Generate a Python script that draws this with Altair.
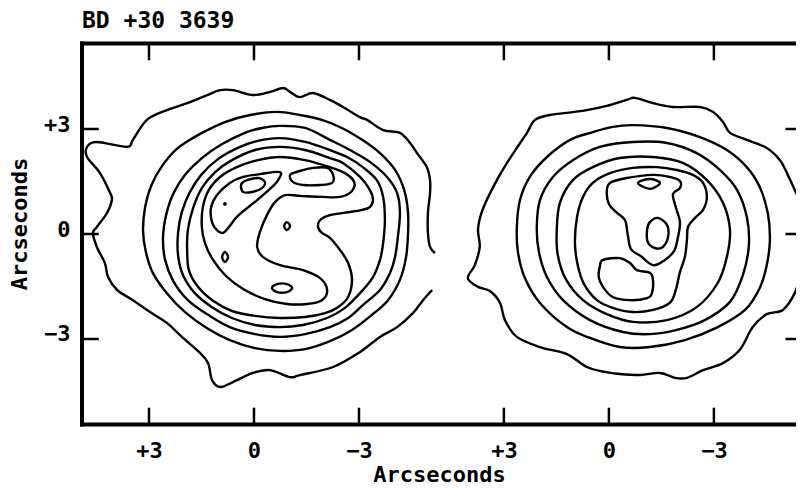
import altair as alt
import pandas as pd

# ---------------- data (arcseconds; east offset is positive to the left) -------------
PANEL_CENTER = {"left": 0.0, "right": 10.14}
X_DOMAIN = [-4.914, 15.486]
Y_DOMAIN = [-5.443, 5.443]

X_TICK_OFFSETS = [3, 0, -3]
X_TICK_LABELS = ["+3", "0", "\u22123"]
Y_TICKS = [3, 0, -3]
Y_TICK_LABELS = ["+3", "0", "\u22123"]

TITLE = "BD +30 3639"
AXIS_TITLE = "Arcseconds"

# left object: outermost contour (open, broken on the right)
LEFT_C1 = [(-5.09, -1.6), (-4.83, -1.89), (-4.54, -2.26), (-4.09, -2.66), (-3.6, -2.94),
           (-3.03, -3.37), (-2.26, -3.8), (-1.31, -4.03), (-1.03, -4.09), (-0.46, -3.89),
           (0.03, -3.97), (0.6, -4.23), (0.97, -4.37), (1.2, -4.17), (1.31, -3.69),
           (1.54, -3.4), (2.06, -2.94), (2.49, -2.54), (2.97, -2.23), (3.46, -1.89),
           (3.91, -1.6), (4.17, -1.23), (4.26, -0.83), (4.49, -0.37), (4.6, 0.03),
           (4.49, 0.2), (4.2, 0.6), (4.06, 0.97), (4.11, 1.17), (4.4, 1.74), (4.77, 2.2),
           (4.77, 2.49), (4.49, 2.63), (3.63, 2.49), (3.46, 2.69), (3.06, 3.26),
           (2.49, 3.54), (1.91, 3.74), (1.34, 3.97), (0.97, 4.11), (0.6, 4.11), (0.03, 3.97),
           (-0.46, 4.06), (-0.83, 4.17), (-1.03, 4.06), (-1.31, 3.91), (-1.69, 4.03),
           (-2.17, 3.83), (-2.54, 3.63), (-3.03, 3.34), (-3.23, 3.26), (-3.69, 2.97),
           (-4.17, 2.89), (-4.46, 2.6), (-4.66, 2.31), (-4.94, 1.91), (-5.03, 1.54),
           (-5.03, 1.17), (-4.97, 0.6), (-4.97, 0.03), (-5.03, -0.37), (-5.17, -0.54)]

LEFT_C2 = [(-0.66, 3.49), (-1.31, 3.4), (-1.94, 3.26), (-2.51, 3.03), (-3.09, 2.69),
           (-3.6, 2.31), (-4.03, 1.83), (-4.29, 1.26), (-4.4, 0.63), (-4.4, -0.03),
           (-4.34, -0.69), (-4.17, -1.31), (-3.83, -1.89), (-3.37, -2.31), (-2.8, -2.74),
           (-2.17, -3.06), (-1.46, -3.29), (-0.74, -3.34), (-0.03, -3.26), (0.69, -3.03),
           (1.34, -2.69), (1.97, -2.23), (2.49, -1.69), (2.89, -1.11), (3.09, -0.51),
           (3.17, 0.11), (3.11, 0.77), (2.94, 1.37), (2.63, 1.94), (2.17, 2.46),
           (1.54, 2.86), (0.83, 3.2), (0.11, 3.4)]

LEFT_C3 = [(-0.74, 3.09), (-1.46, 3.03), (-2.17, 2.69), (-2.74, 2.4), (-3.31, 2.06),
           (-3.8, 1.63), (-4.09, 1.17), (-4.17, 0.6), (-4.11, -0.09), (-4.03, -0.66),
           (-3.89, -1.11), (-3.6, -1.6), (-3.11, -2.03), (-2.69, -2.4), (-2.17, -2.66),
           (-1.46, -2.86), (-0.74, -2.94), (-0.03, -2.86), (0.69, -2.66), (1.31, -2.31),
           (1.89, -1.89), (2.31, -1.34), (2.54, -0.74), (2.6, -0.11), (2.51, 0.54),
           (2.31, 1.14), (1.97, 1.69), (1.49, 2.17), (0.91, 2.57), (0.26, 2.89), (-0.23, 3.03)]

LEFT_C4 = [(-0.74, 2.74), (-1.46, 2.63), (-2.17, 2.4), (-2.66, 2.2), (-3.11, 1.91),
           (-3.51, 1.54), (-3.69, 1.06), (-3.74, 0.4), (-3.69, -0.26), (-3.6, -0.74),
           (-3.4, -1.23), (-3.03, -1.69), (-2.6, -2.11), (-2.09, -2.4), (-1.4, -2.6),
           (-0.74, -2.66), (-0.03, -2.6), (0.63, -2.4), (1.2, -2.09), (1.69, -1.69),
           (2.03, -1.17), (2.17, -0.6), (2.17, 0.03), (2.06, 0.63), (1.83, 1.2),
           (1.49, 1.71), (1.03, 2.14), (0.46, 2.46), (-0.11, 2.66)]

LEFT_C5 = [(-2.17, 2.17), (-2.54, 2.03), (-3.03, 1.63), (-3.31, 1.26), (-3.4, 0.97),
           (-3.31, 0.77), (-3.09, 0.69), (-2.74, 0.63), (-2.17, 0.54), (-1.89, 0.4),
           (-1.83, 0.2), (-1.94, 0.03), (-2.17, -0.11), (-2.46, -0.46), (-2.69, -0.83),
           (-2.8, -1.31), (-2.69, -1.8), (-2.4, -2.09), (-2.03, -2.26), (-1.46, -2.37),
           (-0.74, -2.4), (-0.03, -2.34), (0.63, -2.2), (1.17, -1.91), (1.6, -1.51),
           (1.86, -1.03), (1.91, -0.46), (1.89, 0.11), (1.74, 0.74), (1.49, 1.31),
           (1.11, 1.77), (0.63, 2.11), (-0.03, 2.4), (-0.74, 2.49), (-1.46, 2.4)]

LEFT_C6 = [(-0.74, 2.2), (-1.46, 2.11), (-2.17, 1.91), (-2.6, 1.74), (-2.86, 1.49),
           (-2.8, 1.23), (-2.46, 1.06), (-1.94, 1.06), (-1.31, 1.09), (-0.89, 1.11),
           (-0.6, 0.91), (-0.37, 0.54), (-0.17, 0.06), (-0.09, -0.37), (-0.26, -0.66),
           (-0.74, -0.89), (-1.4, -1.03), (-1.89, -1.26), (-2.09, -1.6), (-1.94, -1.89),
           (-1.51, -2.0), (-0.94, -2.0), (-0.31, -1.86), (0.31, -1.57), (0.8, -1.2),
           (1.17, -0.74), (1.4, -0.26), (1.49, 0.2), (1.46, 0.77), (1.29, 1.26),
           (0.97, 1.63), (0.49, 1.91), (-0.11, 2.11)]

LEFT_BLOB_W = [(1.2, 0.34), (1.23, 0.74), (1.06, 1.11), (0.69, 1.46), (0.31, 1.63),
               (-0.17, 1.71), (-0.74, 1.77), (-0.69, 1.54), (-0.51, 1.34), (-0.09, 0.97),
               (0.2, 0.74), (0.49, 0.49), (0.74, 0.17), (0.89, 0.03), (1.06, 0.11)]
LEFT_BLOB_W_CORE = [(0.34, 1.46), (0.2, 1.54), (-0.11, 1.6), (-0.31, 1.49),
                    (-0.23, 1.31), (0.06, 1.2), (0.31, 1.2), (0.37, 1.34)]
LEFT_BLOB_NE = [(-1.03, 1.69), (-1.31, 1.8), (-1.69, 1.89), (-2.09, 1.89), (-2.26, 1.69),
                (-2.23, 1.46), (-1.89, 1.4), (-1.4, 1.4), (-1.11, 1.49)]
LEFT_OVAL_A = [(0.83, -0.51), (0.74, -0.66), (0.83, -0.8), (0.91, -0.66)]
LEFT_OVAL_B = [(-0.94, 0.34), (-1.03, 0.23), (-0.94, 0.11), (-0.86, 0.23)]
LEFT_OVAL_C = [(-0.51, -1.54), (-0.66, -1.43), (-0.94, -1.43), (-1.09, -1.54),
               (-0.94, -1.66), (-0.66, -1.66)]
LEFT_DOT = [(0.83, 0.86)]

# right object
RIGHT_R1 = [(4.03, -1.26), (3.83, -0.89), (3.69, -0.37), (3.74, 0.11), (3.66, 0.54),
            (3.49, 0.97), (3.2, 1.54), (2.91, 2.03), (2.63, 2.46), (2.34, 2.89),
            (2.11, 3.26), (1.69, 3.4), (1.2, 3.46), (0.63, 3.54), (0.06, 3.66),
            (-0.51, 3.83), (-0.74, 3.89), (-1.26, 3.74), (-1.83, 3.63), (-2.6, 3.63),
            (-2.97, 3.49), (-3.26, 3.2), (-3.46, 2.89), (-3.94, 2.69), (-4.51, 2.46),
            (-4.89, 2.11), (-5.11, 1.69), (-5.31, 1.26), (-5.49, 0.83), (-5.54, 0.4),
            (-5.51, -0.03), (-5.51, -0.6), (-5.46, -1.17), (-5.31, -1.69), (-4.97, -2.17),
            (-4.51, -2.29), (-4.11, -2.66), (-3.74, -3.31), (-3.26, -3.69), (-2.69, -3.89),
            (-2.23, -4.11), (-1.89, -4.11), (-1.46, -3.97), (-0.89, -4.03), (-0.31, -4.0),
            (0.11, -3.94), (0.63, -3.8), (1.2, -3.43), (1.97, -3.23), (2.63, -2.94),
            (2.97, -2.46), (3.11, -1.97), (3.4, -1.63), (3.74, -1.51)]

RIGHT_R2 = [(2.63, 0.2), (2.54, 0.97), (2.26, 1.63), (1.77, 2.2), (1.11, 2.69),
            (0.46, 2.91), (-0.11, 3.06), (-0.69, 3.11), (-1.66, 3.03), (-2.6, 2.77),
            (-3.37, 2.4), (-3.94, 1.91), (-4.31, 1.34), (-4.54, 0.6), (-4.6, -0.17),
            (-4.51, -0.89), (-4.31, -1.54), (-3.89, -2.17), (-3.11, -2.66), (-2.17, -3.03),
            (-1.17, -3.23), (-0.31, -3.23), (0.54, -2.97), (1.2, -2.66), (1.97, -1.97),
            (2.4, -1.26), (2.6, -0.51)]

RIGHT_R3 = [(2.06, 0.2), (1.97, 0.97), (1.6, 1.63), (1.03, 2.11), (0.26, 2.49),
            (-0.69, 2.63), (-1.66, 2.6), (-2.51, 2.31), (-3.17, 1.83), (-3.66, 1.26),
            (-3.94, 0.49), (-4.0, -0.31), (-3.83, -1.17), (-3.46, -1.94), (-2.74, -2.46),
            (-1.94, -2.74), (-1.17, -2.86), (-0.4, -2.8), (0.54, -2.46), (1.31, -1.89),
            (1.77, -1.23), (2.0, -0.51)]

RIGHT_R4 = [(1.49, 0.11), (1.4, 0.89), (1.03, 1.54), (0.46, 1.91), (-0.31, 2.17),
            (-1.26, 2.2), (-2.11, 2.03), (-2.8, 1.54), (-3.26, 0.89), (-3.46, 0.11),
            (-3.37, -0.66), (-3.11, -1.4), (-2.51, -2.09), (-1.66, -2.46), (-0.69, -2.51),
            (0.06, -2.29), (0.74, -1.89), (1.23, -1.29), (1.46, -0.6)]

RIGHT_R5 = [(0.97, -0.26), (0.91, 0.49), (0.74, 1.06), (0.46, 1.46), (-0.03, 1.74),
            (-0.69, 1.89), (-1.37, 1.91), (-1.94, 1.83), (-2.4, 1.69), (-2.69, 1.46),
            (-2.8, 1.06), (-2.69, 0.69), (-2.46, 0.46), (-2.26, 0.2), (-2.23, -0.17),
            (-2.17, -0.66), (-2.03, -1.09), (-1.91, -1.6), (-1.74, -1.97), (-1.26, -2.17),
            (-0.69, -2.23), (-0.11, -2.11), (0.34, -1.89), (0.71, -1.43), (0.89, -0.89)]

RIGHT_R6 = [(-0.03, 1.46), (-0.51, 1.6), (-1.26, 1.69), (-1.74, 1.63), (-2.03, 1.51),
            (-2.03, 1.31), (-1.83, 1.14), (-1.91, 0.77), (-2.03, 0.34), (-1.97, -0.11),
            (-1.86, -0.49), (-1.6, -0.74), (-1.26, -0.89), (-0.91, -0.63), (-0.63, -0.43),
            (-0.54, -0.03), (-0.46, 0.4), (-0.2, 0.63), (0.0, 0.86), (0.06, 1.2)]

RIGHT_DIAMOND = [(-0.83, 1.46), (-1.17, 1.57), (-1.46, 1.46), (-1.17, 1.29)]
RIGHT_OVAL = [(-1.17, 0.34), (-1.4, 0.46), (-1.66, 0.26), (-1.69, -0.09), (-1.54, -0.37),
              (-1.31, -0.4), (-1.11, -0.23), (-1.09, 0.11)]
RIGHT_BLOB_S = [(0.26, -0.94), (0.17, -0.74), (-0.31, -0.69), (-0.6, -0.83), (-0.8, -1.03),
                (-1.17, -1.11), (-1.26, -1.31), (-1.23, -1.69), (-1.09, -1.83), (-0.6, -1.89),
                (-0.11, -1.8), (0.17, -1.51), (0.29, -1.23)]

CLOSED_CONTOURS = [
    ("left", "c2", LEFT_C2), ("left", "c3", LEFT_C3), ("left", "c4", LEFT_C4),
    ("left", "c5", LEFT_C5), ("left", "c6", LEFT_C6), ("left", "bw", LEFT_BLOB_W),
    ("left", "bwc", LEFT_BLOB_W_CORE), ("left", "bne", LEFT_BLOB_NE),
    ("left", "oa", LEFT_OVAL_A), ("left", "ob", LEFT_OVAL_B), ("left", "oc", LEFT_OVAL_C),
    ("right", "r1", RIGHT_R1), ("right", "r2", RIGHT_R2), ("right", "r3", RIGHT_R3),
    ("right", "r4", RIGHT_R4), ("right", "r5", RIGHT_R5), ("right", "r6", RIGHT_R6),
    ("right", "dm", RIGHT_DIAMOND), ("right", "ov", RIGHT_OVAL), ("right", "bs", RIGHT_BLOB_S),
]
OPEN_CONTOURS = [("left", "c1", LEFT_C1)]
DOTS = [("left", "d1", LEFT_DOT)]


def to_frame(items):
    rows = []
    for panel, name, pts in items:
        for i, (e, n) in enumerate(pts):
            rows.append({"cid": panel + "_" + name, "i": i,
                         "u": PANEL_CENTER[panel] - e, "n": n})
    return pd.DataFrame(rows)


closed_df = to_frame(CLOSED_CONTOURS)
open_df = to_frame(OPEN_CONTOURS)
dot_df = to_frame(DOTS)

x_tick_u = [round(PANEL_CENTER[p] - e, 2) for p in ("left", "right") for e in X_TICK_OFFSETS]
x_tick_lab = X_TICK_LABELS * 2

TICK_LEN = 0.48
RIGHT_TICK_LEN = 0.3

ticks_rows = []
for u in x_tick_u:
    ticks_rows.append({"u": u, "u2": u, "n": Y_DOMAIN[1], "n2": Y_DOMAIN[1] - TICK_LEN})
    ticks_rows.append({"u": u, "u2": u, "n": Y_DOMAIN[0], "n2": Y_DOMAIN[0] + TICK_LEN})
for v in Y_TICKS:
    ticks_rows.append({"u": X_DOMAIN[0], "u2": X_DOMAIN[0] + TICK_LEN, "n": v, "n2": v})
    ticks_rows.append({"u": X_DOMAIN[1] - RIGHT_TICK_LEN, "u2": X_DOMAIN[1], "n": v, "n2": v})
ticks_df = pd.DataFrame(ticks_rows)

frame_df = pd.DataFrame([
    {"u": X_DOMAIN[0], "u2": X_DOMAIN[1], "n": Y_DOMAIN[1], "n2": Y_DOMAIN[1]},
    {"u": X_DOMAIN[0], "u2": X_DOMAIN[1], "n": Y_DOMAIN[0], "n2": Y_DOMAIN[0]},
    {"u": X_DOMAIN[0], "u2": X_DOMAIN[0], "n": Y_DOMAIN[0], "n2": Y_DOMAIN[1]},
])

title_df = pd.DataFrame([{"u": X_DOMAIN[0], "n": Y_DOMAIN[1], "label": TITLE}])

FONT = "DejaVu Sans Mono"


def js_list(vals, quote=False):
    if quote:
        return "[" + ",".join("'" + s + "'" for s in vals) + "]"
    return "[" + ",".join(repr(v) for v in vals) + "]"


x_label_expr = js_list(x_tick_lab, True) + "[indexof(" + js_list(x_tick_u) + ", datum.value)]"
y_label_expr = js_list(Y_TICK_LABELS, True) + "[indexof(" + js_list(Y_TICKS) + ", datum.value)]"

xscale = alt.Scale(domain=X_DOMAIN, nice=False, zero=False)
yscale = alt.Scale(domain=Y_DOMAIN, nice=False, zero=False)

x_axis = alt.Axis(values=x_tick_u, labelExpr=x_label_expr, ticks=False, tickSize=0,
                  domain=False, grid=False, labelFont=FONT, labelFontSize=22,
                  labelFontWeight="bold", labelColor="black", labelPadding=16,
                  title=AXIS_TITLE, titleFont=FONT, titleFontSize=22,
                  titleFontWeight="bold", titleColor="black", titleY=57,
                  titleBaseline="alphabetic")
y_axis = alt.Axis(values=Y_TICKS, labelExpr=y_label_expr, ticks=False, tickSize=0,
                  domain=False, grid=False, labelFont=FONT, labelFontSize=22,
                  labelFontWeight="bold", labelColor="black", labelPadding=12,
                  labelOffset=-5, title=AXIS_TITLE, titleFont=FONT, titleFontSize=22,
                  titleFontWeight="bold", titleColor="black", titleAngle=270,
                  titleX=-56, titleY=180, titleBaseline="alphabetic", titleAlign="center")

X = alt.X("u:Q", scale=xscale, axis=x_axis)
Y = alt.Y("n:Q", scale=yscale, axis=y_axis)

LINE_W = 2.4

closed_layer = alt.Chart(closed_df).mark_line(
    interpolate="cardinal-closed", color="black", strokeWidth=LINE_W
).encode(x=X, y=Y, detail="cid:N", order="i:Q")

open_layer = alt.Chart(open_df).mark_line(
    interpolate="cardinal", color="black", strokeWidth=LINE_W
).encode(x=X, y=Y, detail="cid:N", order="i:Q")

dot_layer = alt.Chart(dot_df).mark_circle(color="black", size=14, opacity=1).encode(x=X, y=Y)

tick_layer = alt.Chart(ticks_df).mark_rule(color="black", strokeWidth=2.5).encode(
    x=X, x2="u2:Q", y=Y, y2="n2:Q")

frame_layer = alt.Chart(frame_df).mark_rule(color="black", strokeWidth=4,
                                             strokeCap="square").encode(
    x=X, x2="u2:Q", y=Y, y2="n2:Q")

title_layer = alt.Chart(title_df).mark_text(
    font=FONT, fontSize=23, fontWeight="bold", color="black", align="left",
    baseline="alphabetic", dy=-16, dx=0
).encode(x=X, y=Y, text="label:N")

chart = alt.layer(closed_layer, open_layer, dot_layer, tick_layer, frame_layer,
                  title_layer).properties(
    width=714,
    height=381,
    autosize=alt.AutoSizeParams(type="none"),
    padding={"left": 74, "top": 35.5, "right": 0, "bottom": 65},
).configure_view(stroke=None).configure(background="white")

chart.save("out.html", embed_options={"renderer": "svg", "actions": False})
